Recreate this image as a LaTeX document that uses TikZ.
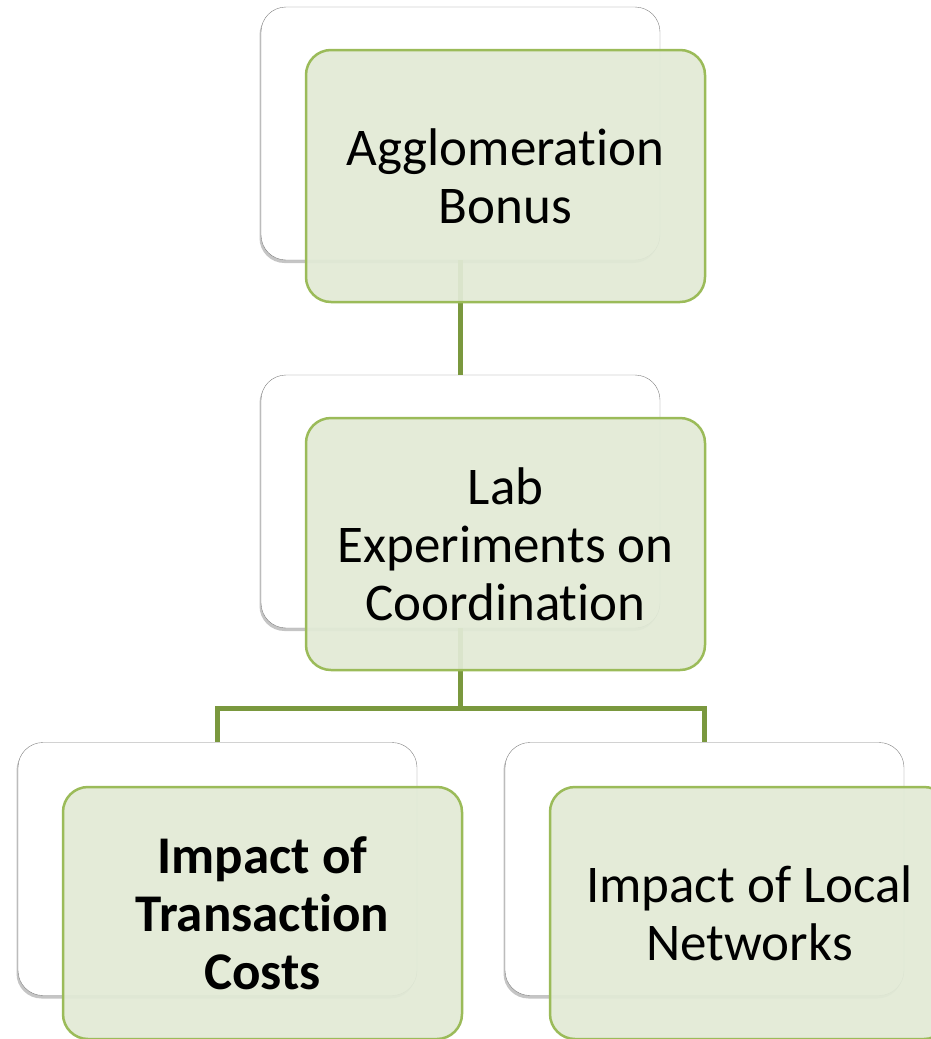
\documentclass[tikz,border=0pt]{standalone}
\usepackage{fontspec}
\setmainfont[Ligatures=NoCommon]{Carlito}
\usetikzlibrary{shadows}
\definecolor{boxgreen}{RGB}{226,234,214}
\definecolor{edgegreen}{RGB}{155,187,89}
\definecolor{linkgreen}{RGB}{122,152,62}
\begin{document}
\begin{tikzpicture}[x=1pt,y=-1pt,
        backbox/.style={draw=gray,fill=white,rounded corners=25pt,minimum width=399pt,minimum height=253pt,
            drop shadow={shadow xshift=-1.5pt,shadow yshift=-3pt,opacity=0.45}},
        greenbox/.style={draw=edgegreen,line width=2.5pt,fill=boxgreen,fill opacity=0.93,text opacity=1,
            rounded corners=25pt,minimum width=399pt,minimum height=252pt,align=center,
            font=\fontsize{53}{58}\selectfont},
        link/.style={draw=linkgreen,line width=5pt}]
        \clip (0,0) rectangle (931,1039);
        \fill[white] (0,0) rectangle (931,1039);
        \node[backbox] (aggback) at (460.5,133.5) {};
        \node[backbox] (labback) at (460.5,501.5) {};
        \node[backbox] (tcback) at (217.5,869) {};
        \node[backbox] (lnback) at (704.5,869) {};
        \draw[link] (aggback.south) -- (labback.north);
        \draw[link] (labback.south) -- ++(0,80) coordinate (split) -| (tcback.north);
        \draw[link] (split) -| (lnback.north);
        \node[greenbox] (agg) at (505.5,176) {Agglomeration\\Bonus};
        \node[greenbox] (lab) at (505.5,544) {Lab\\Experiments on\\Coordination};
        \node[greenbox,font=\fontsize{53}{58}\selectfont\bfseries] (tc) at (262.5,913) {Impact of\\Transaction\\Costs};
        \node[greenbox] (ln) at (749.5,913) {Impact of Local\\Networks};
    \end{tikzpicture}
\end{document}
